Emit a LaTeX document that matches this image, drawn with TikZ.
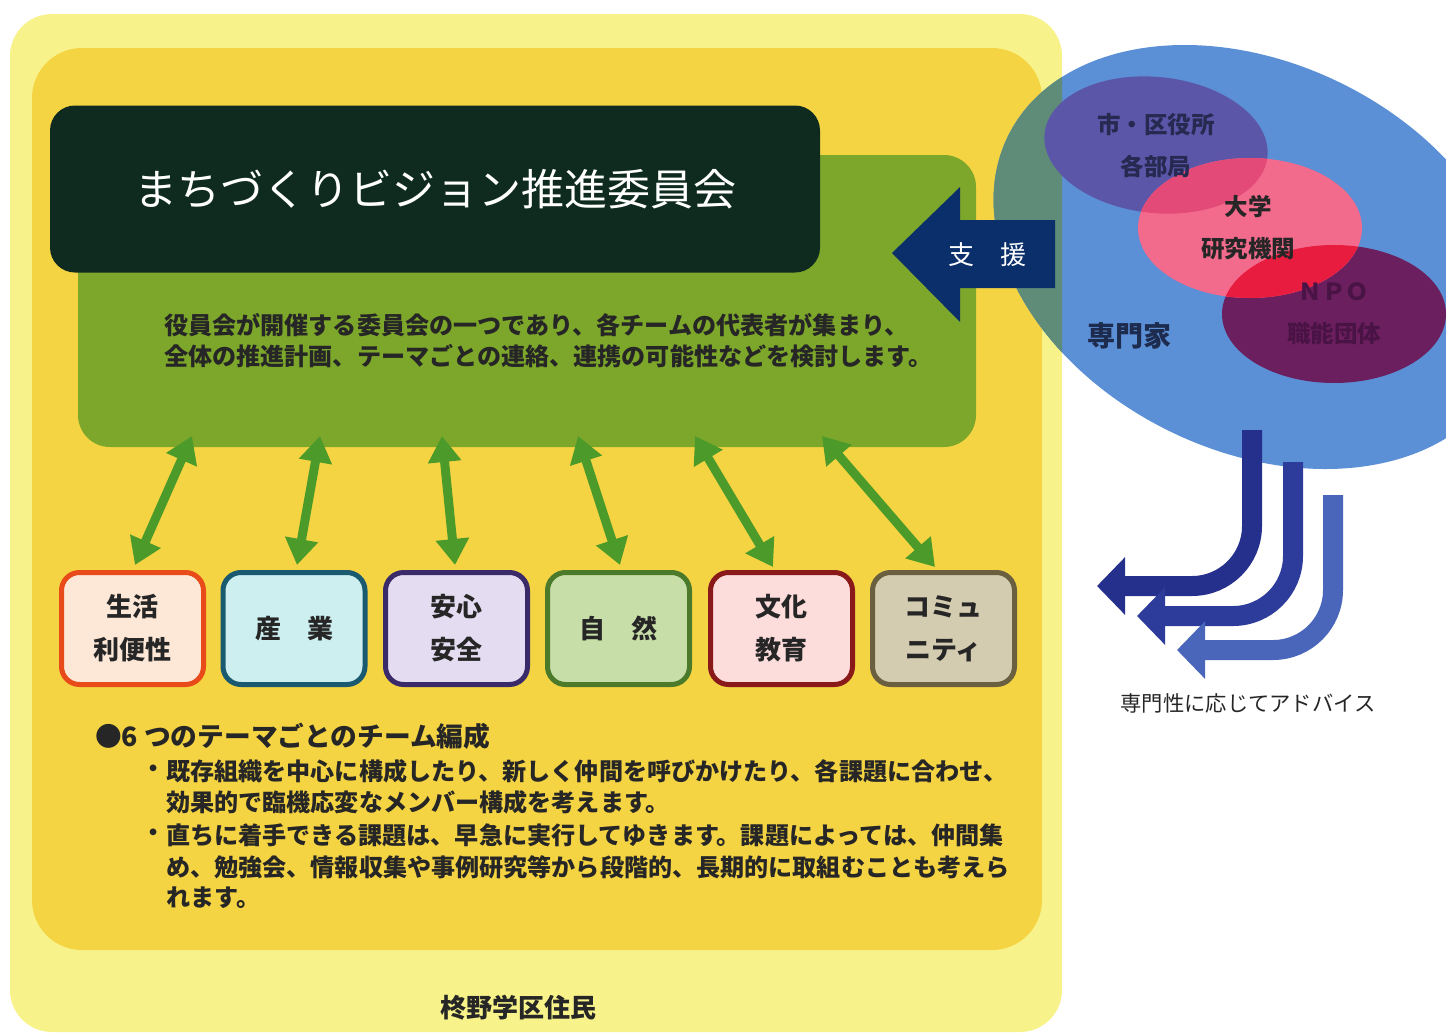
\documentclass[tikz,border=0pt]{standalone}
\usepackage{fontspec}
\setmainfont{Noto Sans CJK JP}
\usetikzlibrary{arrows.meta}
\definecolor{lightyel}{HTML}{F7F38A}
\definecolor{yel}{HTML}{F5D443}
\definecolor{boxgreen}{HTML}{7DA72B}
\definecolor{titlebg}{HTML}{0F2B1F}
\definecolor{navy}{HTML}{0B2F6B}
\definecolor{arrgreen}{HTML}{4C9A2A}
\definecolor{bigblue}{HTML}{5B8FD6}
\definecolor{tealov}{HTML}{5E8C78}
\definecolor{purp}{HTML}{5B56A8}
\definecolor{pinkc}{HTML}{F26A8C}
\definecolor{pinkpurp}{HTML}{E44A78}
\definecolor{npo}{HTML}{6C1F5E}
\definecolor{npotxt}{HTML}{4A1345}
\definecolor{redov}{HTML}{E81C3E}
\definecolor{citytxt}{HTML}{262A50}
\definecolor{exptxt}{HTML}{1D2C4E}
\definecolor{ca}{HTML}{25308C}
\definecolor{cb}{HTML}{2D3C9A}
\definecolor{cc}{HTML}{4A66BA}
\definecolor{txt}{HTML}{262626}
\definecolor{dra}{HTML}{E84A1A}\definecolor{fia}{HTML}{FDE8D8}
\definecolor{drb}{HTML}{1A5A70}\definecolor{fib}{HTML}{CDEFF0}
\definecolor{drc}{HTML}{3A2A6A}\definecolor{fic}{HTML}{E4DCF0}
\definecolor{drd}{HTML}{4A7A2A}\definecolor{fid}{HTML}{C8DEA8}
\definecolor{dre}{HTML}{8A1A1A}\definecolor{fie}{HTML}{FDDCDC}
\definecolor{drf}{HTML}{6A6040}\definecolor{fif}{HTML}{D4CCB0}
\tikzset{
  tbox/.style={rounded corners=18, line width=5, minimum width=142, minimum height=112,
    align=center, font=\fontsize{26}{43}\selectfont\bfseries, text=txt, inner sep=0},
  garrow/.style={line width=9, draw=arrgreen,
    {Triangle[width=32,length=26]}-{Triangle[width=32,length=26]}},
  carrow/.style={line width=20, rounded corners=60, -{Triangle[width=56,length=28]}},
  bodytxt/.style={anchor=west, font=\fontsize{24.1}{31}\selectfont\bfseries, text=txt, inner sep=0},
  elltxt/.style={align=center, font=\fontsize{23.5}{42}\selectfont\bfseries, inner sep=0}
}
\begin{document}
\begin{tikzpicture}[x=1pt,y=-1pt]
\useasboundingbox (0,0) rectangle (1446,1034);
\fill[white] (0,0) rectangle (1446,1034);
% backgrounds
\fill[lightyel, rounded corners=42] (10,14) rectangle (1062,1032);
\fill[yel, rounded corners=50] (32,48) rectangle (1042,950);
% big ellipse
\fill[bigblue, rotate around={-26:(1255,257)}] (1255,257) ellipse [x radius=275, y radius=194];
\begin{scope}
  \clip[rounded corners=42] (10,14) rectangle (1062,1032);
  \fill[tealov, rotate around={-26:(1255,257)}] (1255,257) ellipse [x radius=275, y radius=194];
\end{scope}
% inner ellipses
\fill[purp, rotate around={-6:(1156,145)}] (1156,145) ellipse [x radius=112, y radius=68];
\fill[npo] (1334,314) ellipse [x radius=112, y radius=69];
\fill[pinkc] (1250,228) ellipse [x radius=112, y radius=70];
\begin{scope}
  \clip[rotate around={-6:(1156,145)}] (1156,145) ellipse [x radius=112, y radius=68];
  \fill[pinkpurp] (1250,228) ellipse [x radius=112, y radius=70];
\end{scope}
\begin{scope}
  \clip (1334,314) ellipse [x radius=112, y radius=69];
  \fill[redov] (1250,228) ellipse [x radius=112, y radius=70];
\end{scope}
\node[elltxt, text=citytxt] (city) at (1156,146) {市・区役所\\各部局};
\node[elltxt, text=txt] (univ) at (1248,228) {大学\\研究機関};
\node[elltxt, text=npotxt] (npot) at (1334,314) {ＮＰＯ\\職能団体};
\node[font=\fontsize{28}{30}\selectfont\bfseries, text=exptxt, inner sep=0] (expert) at (1129,336) {専門家};
% green box and title
\node[fill=boxgreen, rounded corners=32, minimum width=898, minimum height=292, inner sep=0] (gbox) at (527,301) {};
\node[fill=titlebg, rounded corners=25, minimum width=770, minimum height=167, inner sep=0,
  text=white, font=\fontsize{43}{50}\selectfont] (title) at (435,189) {まちづくりビジョン推進委員会};
\node[bodytxt, align=left] (desc) at (164,341) {役員会が開催する委員会の一つであり、各チームの代表者が集まり、\\全体の推進計画、テーマごとの連絡、連携の可能性などを検討します。};
% support arrow
\fill[navy] (892,253) -- (960,187) -- (960,220) -- (1055,220) -- (1055,288) -- (960,288) -- (960,322) -- cycle;
\node[text=white, font=\fontsize{26}{30}\selectfont, inner sep=0] (support) at (987,255) {支\hspace{1em}援};
% theme boxes
\node[tbox, draw=dra, fill=fia] (b1) at (132.5,628.5) {生活\\利便性};
\node[tbox, draw=drb, fill=fib] (b2) at (294,628.5) {産\hspace{1em}業};
\node[tbox, draw=drc, fill=fic] (b3) at (456.5,628.5) {安心\\安全};
\node[tbox, draw=drd, fill=fid] (b4) at (618.5,628.5) {自\hspace{1em}然};
\node[tbox, draw=dre, fill=fie] (b5) at (781.5,628.5) {文化\\教育};
\node[tbox, draw=drf, fill=fif] (b6) at (943.5,628.5) {コミュ\\ニティ};
% green double arrows
\coordinate (t1) at (192,436);
\coordinate (t2) at (320,436);
\coordinate (t3) at (442,436);
\coordinate (t4) at (578,436);
\coordinate (t5) at (695,436);
\coordinate (t6) at (822,436);
\coordinate (e1) at (135,565);
\coordinate (e2) at (297,565);
\coordinate (e3) at (455,565);
\coordinate (e4) at (620,565);
\coordinate (e5) at (773,567);
\coordinate (e6) at (935,567);
\foreach \i in {1,...,6} { \draw[garrow] (t\i) -- (e\i); }
% bottom text
\node[anchor=west, font=\fontsize{26.7}{30}\selectfont\bfseries, text=txt, inner sep=0] (head) at (95,736) {●6 つのテーマごとのチーム編成};
\node[bodytxt, anchor=center] (d1) at (154,771) {\makebox[10pt]{・}};
\node[bodytxt] (l1) at (166,771) {既存組織を中心に構成したり、新しく仲間を呼びかけたり、各課題に合わせ、};
\node[bodytxt] (l2) at (166,802) {効果的で臨機応変なメンバー構成を考えます。};
\node[bodytxt, anchor=center] (d2) at (154,835) {\makebox[10pt]{・}};
\node[bodytxt] (l3) at (166,835) {直ちに着手できる課題は、早急に実行してゆきます。課題によっては、仲間集};
\node[bodytxt] (l4) at (166,867) {め、勉強会、情報収集や事例研究等から段階的、長期的に取組むことも考えら};
\node[bodytxt] (l5) at (166,898) {れます。};
\node[font=\fontsize{26}{30}\selectfont\bfseries, text=txt, inner sep=0] (residents) at (518,1008) {柊野学区住民};
% curved advice arrows
\coordinate (s1) at (1252,430); \coordinate (f1) at (1097,586);
\coordinate (s2) at (1293,462); \coordinate (f2) at (1137,616);
\coordinate (s3) at (1333,495); \coordinate (f3) at (1177,650);
\draw[carrow, ca] (s1) |- (f1);
\draw[carrow, cb] (s2) |- (f2);
\draw[carrow, cc] (s3) |- (f3);
\node[font=\fontsize{21.3}{24}\selectfont, text=txt, inner sep=0] (advice) at (1248,703) {専門性に応じてアドバイス};
\end{tikzpicture}
\end{document}
